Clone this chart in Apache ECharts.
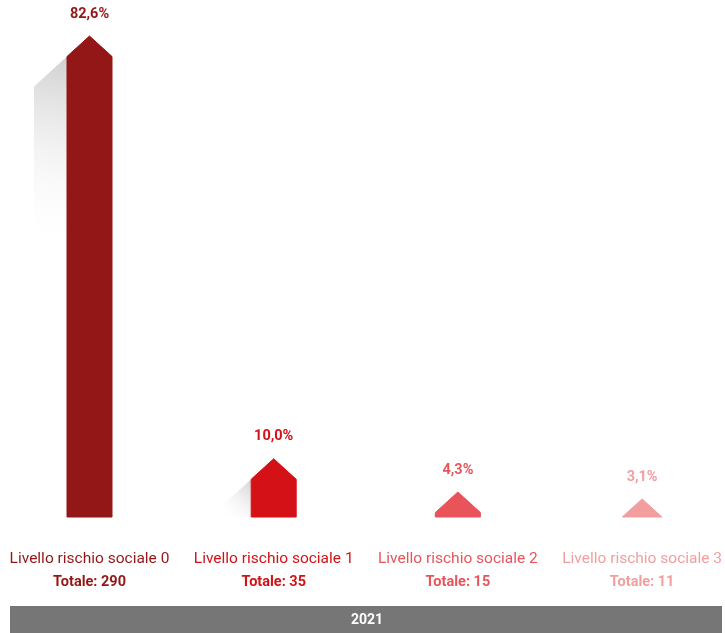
<!DOCTYPE html>
<html>
<head>
<meta charset="utf-8">
<script src="https://cdn.jsdelivr.net/npm/echarts@6/dist/echarts.min.js"></script>
<style>
  html, body { margin: 0; padding: 0; background: #ffffff; }
  #chart { width: 725px; height: 633px; }
</style>
</head>
<body>
<div id="chart"></div>
<script>
// Distribuzione per livello di rischio sociale, anno 2021
const categories = ['Livello rischio sociale 0', 'Livello rischio sociale 1', 'Livello rischio sociale 2', 'Livello rischio sociale 3'];
const percentages = [82.6, 10.0, 4.3, 3.1];
const totals = [290, 35, 15, 11];
const colors = ['#931716', '#d41116', '#e9545a', '#f29e9f'];
const yearLabel = '2021';

const FONT = 'Roboto, "Liberation Sans", sans-serif';
const HALF_W = 22.5;   // half width of each column
const ROOF_H = 20.5;   // height of the pointed roof
const SHADOW_W = 33;   // horizontal reach of the cast shadow

const fmtPct = v => v.toFixed(1).replace('.', ',') + '%';

function renderColumn(params, api) {
  const idx = api.value(0);
  const val = api.value(1);
  const peak = api.coord([idx, val]);
  const base = api.coord([idx, 0]);
  const cx = peak[0], py = peak[1], by = base[1];
  const h = by - py;
  const color = colors[idx];
  const children = [];

  let pts;
  if (h > ROOF_H) {
    const sy = py + ROOF_H;
    pts = [[cx - HALF_W, by], [cx - HALF_W, sy], [cx, py], [cx + HALF_W, sy], [cx + HALF_W, by]];
    // shadow continuing the left roof slope
    const reach = Math.min(SHADOW_W, by - sy);
    const sx = cx - HALF_W;
    const drop = reach * ROOF_H / HALF_W;
    const fadeLen = Math.max(reach, 0.42 * (by - sy));
    children.push({
      type: 'polygon',
      shape: { points: [[sx, sy], [sx - reach, Math.min(by, sy + drop)], [sx - reach, by], [sx, by]] },
      style: {
        fill: new echarts.graphic.LinearGradient(sx, sy, sx - reach, sy + fadeLen, [
          { offset: 0, color: 'rgba(200,200,200,0.85)' },
          { offset: 1, color: 'rgba(255,255,255,0)' }
        ], true)
      },
      silent: true
    });
  } else {
    const hw = h * HALF_W / ROOF_H;
    pts = [[cx - hw, by], [cx, py], [cx + hw, by]];
  }

  children.push({
    type: 'polygon',
    shape: { points: pts },
    style: { fill: color, stroke: color, lineWidth: 1, lineJoin: 'round' }
  });
  children.push({
    type: 'text',
    x: cx,
    y: py - 22,
    style: {
      text: fmtPct(val),
      fill: color,
      font: 'bold 14.5px ' + FONT,
      align: 'center',
      verticalAlign: 'middle'
    }
  });
  return { type: 'group', children };
}

const rich = {};
colors.forEach((c, i) => {
  rich['l' + i] = { color: c, fontSize: 15.5, fontFamily: FONT, lineHeight: 23 };
  rich['t' + i] = { color: c, fontSize: 14.5, fontWeight: 'bold', fontFamily: FONT, lineHeight: 23 };
});

const chart = echarts.init(document.getElementById('chart'), null, { renderer: 'canvas' });
chart.setOption({
  animation: false,
  backgroundColor: '#ffffff',
  // category ticks sit on the column centres (first and last at the grid edges)
  grid: { left: 89.5, right: 82, top: 36, bottom: 116, containLabel: false },
  xAxis: {
    type: 'category',
    data: categories,
    boundaryGap: false,
    axisLine: { show: false },
    axisTick: { show: false },
    axisLabel: {
      margin: 31,
      interval: 0,
      formatter: (value, index) => `{l${index}|${value}}\n{t${index}|Totale: ${totals[index]}}`,
      rich
    }
  },
  yAxis: {
    type: 'value',
    min: 0,
    max: 82.6,
    show: false,
    splitLine: { show: false }
  },
  series: [{
    type: 'custom',
    renderItem: renderColumn,
    clip: false,
    data: percentages.map((v, i) => [i, v])
  }],
  graphic: [{
    type: 'group',
    left: 10,
    top: 606,
    children: [
      { type: 'rect', shape: { x: 0, y: 0, width: 712, height: 27 }, style: { fill: '#767676' } },
      {
        type: 'text', x: 357, y: 14,
        style: { text: yearLabel, fill: '#ffffff', font: 'bold 14px ' + FONT, align: 'center', verticalAlign: 'middle' }
      }
    ]
  }]
});
</script>
</body>
</html>
